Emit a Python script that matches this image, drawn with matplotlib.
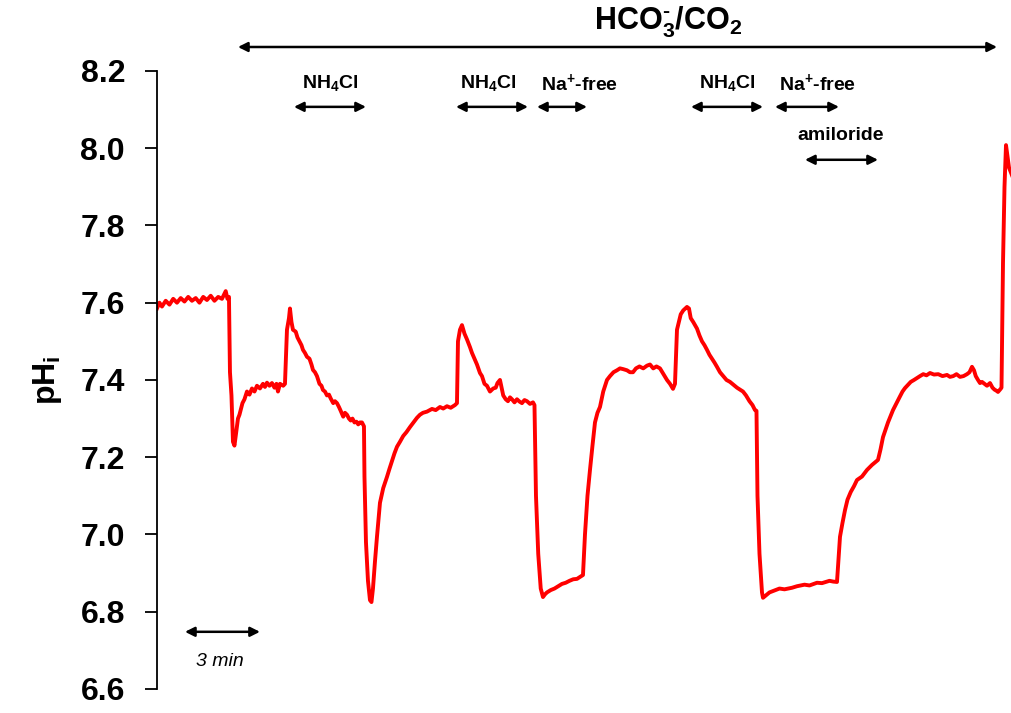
import matplotlib
matplotlib.use("Agg")
import matplotlib.pyplot as plt
import numpy as np

plt.rcParams['font.family'] = ['Liberation Sans', 'DejaVu Sans']
plt.rcParams['mathtext.default'] = 'regular'

# time (min) and intracellular pH
time_min = [0.0, 0.1, 0.2, 0.35, 0.5, 0.65, 0.8, 0.95, 1.1, 1.25, 1.4, 1.55, 1.7, 1.85, 2.0,
            2.15, 2.3, 2.45, 2.6, 2.75, 2.82, 2.88,
            2.92, 2.98, 3.04, 3.1, 3.16, 3.24, 3.3, 3.42, 3.5, 3.6, 3.7, 3.8, 3.9, 4.0, 4.12, 4.24,
            4.32, 4.4, 4.5, 4.6, 4.7, 4.78, 4.84, 4.92, 5.05, 5.12,
            5.2, 5.28, 5.32, 5.38, 5.44, 5.55, 5.62, 5.7, 5.78, 5.84, 5.92, 6.0, 6.1, 6.18, 6.24,
            6.32, 6.4, 6.5, 6.58, 6.64, 6.72, 6.8, 6.88, 6.95, 7.05, 7.12, 7.2, 7.28, 7.35, 7.45,
            7.52, 7.6, 7.68, 7.75, 7.82, 7.9, 7.98, 8.05, 8.12, 8.2, 8.28,
            8.3, 8.36, 8.44, 8.52, 8.58, 8.64, 8.72, 8.8, 8.92, 9.05, 9.2, 9.3, 9.4, 9.5, 9.6,
            9.72, 9.85, 9.98, 10.12, 10.26, 10.4, 10.52, 10.64, 10.8, 11.0, 11.15, 11.32, 11.45,
            11.6, 11.75, 11.92, 12.0,
            12.04, 12.12, 12.2, 12.3, 12.4, 12.52, 12.6, 12.7, 12.8, 12.92, 13.0, 13.1, 13.2,
            13.32, 13.45, 13.55, 13.62, 13.72, 13.8, 13.85, 13.95, 14.04, 14.12, 14.2, 14.3,
            14.4, 14.5, 14.6, 14.7, 14.8, 14.92, 15.04, 15.1,
            15.16, 15.25, 15.35, 15.44, 15.52, 15.6, 15.75, 15.9, 16.05, 16.2, 16.35, 16.5, 16.65,
            16.8, 16.92, 17.04,
            17.12, 17.22, 17.32, 17.42, 17.52, 17.62, 17.72, 17.85, 18.0, 18.12, 18.26, 18.4,
            18.52, 18.65, 18.8, 18.92, 19.04, 19.16, 19.3, 19.45, 19.6, 19.72, 19.85, 19.98,
            20.12, 20.26, 20.4, 20.52, 20.64, 20.72,
            20.8, 20.95, 21.05, 21.2, 21.28, 21.35, 21.45, 21.6, 21.7, 21.8, 21.9, 22.0, 22.1,
            22.2, 22.3, 22.4, 22.52, 22.65, 22.78, 22.92, 23.05, 23.2, 23.32, 23.44, 23.56, 23.7,
            23.82, 23.92, 23.98,
            24.02, 24.1, 24.2, 24.24, 24.35, 24.5, 24.7, 24.9, 25.1, 25.4, 25.6, 25.9, 26.1,
            26.4, 26.6, 26.9, 27.05, 27.2,
            27.32, 27.42, 27.52, 27.62, 27.75, 27.88, 28.0, 28.2, 28.4, 28.6, 28.84, 28.94, 29.04,
            29.24, 29.44, 29.58, 29.7, 29.82, 29.92, 30.05, 30.15, 30.28, 30.4, 30.52, 30.65,
            30.78, 30.92, 31.08, 31.25, 31.42, 31.6, 31.72, 31.85, 31.98, 32.12, 32.26, 32.4,
            32.5, 32.6, 32.68, 32.75, 32.84, 32.92, 33.0, 33.1, 33.2, 33.32, 33.42, 33.5, 33.58,
            33.64, 33.72, 33.78,
            33.84, 33.9, 33.96, 34.02, 34.08, 34.2]
ph_i = [7.585, 7.60, 7.59, 7.605, 7.595, 7.61, 7.60, 7.612, 7.603, 7.615, 7.605, 7.612, 7.60, 7.615, 7.607,
        7.618, 7.605, 7.615, 7.61, 7.63, 7.61, 7.615,
        7.42, 7.36, 7.24, 7.23, 7.26, 7.30, 7.31, 7.34, 7.35, 7.37, 7.362, 7.378, 7.37, 7.385, 7.378, 7.39,
        7.382, 7.393, 7.385, 7.392, 7.38, 7.39, 7.37, 7.39, 7.385, 7.39,
        7.53, 7.56, 7.585, 7.55, 7.53, 7.525, 7.51, 7.50, 7.49, 7.478, 7.47, 7.46, 7.455, 7.44, 7.426,
        7.42, 7.41, 7.39, 7.385, 7.374, 7.37, 7.36, 7.362, 7.352, 7.34, 7.345, 7.34, 7.33, 7.32, 7.305,
        7.315, 7.31, 7.30, 7.295, 7.30, 7.29, 7.292, 7.285, 7.29, 7.29, 7.28,
        7.15, 6.98, 6.88, 6.83, 6.825, 6.86, 6.93, 6.994, 7.082, 7.12, 7.149, 7.17, 7.19, 7.21, 7.227,
        7.24, 7.255, 7.265, 7.278, 7.29, 7.302, 7.31, 7.315, 7.318, 7.325, 7.322, 7.33, 7.326,
        7.332, 7.328, 7.335, 7.34,
        7.50, 7.53, 7.542, 7.52, 7.505, 7.485, 7.47, 7.455, 7.44, 7.418, 7.41, 7.39, 7.385,
        7.37, 7.378, 7.38, 7.392, 7.40, 7.375, 7.36, 7.35, 7.345, 7.355, 7.35, 7.342,
        7.35, 7.344, 7.34, 7.348, 7.345, 7.338, 7.342, 7.335,
        7.1, 6.95, 6.86, 6.838, 6.845, 6.85, 6.856, 6.86, 6.866, 6.872, 6.875, 6.88, 6.884,
        6.885, 6.89, 6.895,
        7.0, 7.1, 7.167, 7.23, 7.29, 7.315, 7.33, 7.37, 7.40, 7.41, 7.42, 7.425, 7.43, 7.428,
        7.425, 7.42, 7.42, 7.43, 7.435, 7.43, 7.437, 7.44, 7.43, 7.435, 7.43, 7.415, 7.40, 7.39,
        7.377, 7.39,
        7.53, 7.57, 7.58, 7.589, 7.585, 7.56, 7.55, 7.533, 7.515, 7.50, 7.49, 7.478, 7.465,
        7.455, 7.445, 7.434, 7.42, 7.41, 7.40, 7.395, 7.388, 7.38, 7.375, 7.37, 7.36, 7.345,
        7.335, 7.322, 7.32,
        7.1, 6.95, 6.85, 6.836, 6.842, 6.85, 6.855, 6.86, 6.858, 6.862, 6.866, 6.87, 6.868,
        6.875, 6.874, 6.88, 6.878, 6.877,
        6.994, 7.03, 7.063, 7.09, 7.11, 7.125, 7.141, 7.15, 7.167, 7.18, 7.193, 7.22, 7.252,
        7.29, 7.322, 7.34, 7.355, 7.37, 7.379, 7.388, 7.395, 7.40, 7.405, 7.41, 7.415,
        7.412, 7.418, 7.414, 7.415, 7.41, 7.413, 7.408, 7.41, 7.415, 7.408, 7.41, 7.415,
        7.42, 7.434, 7.425, 7.41, 7.40, 7.392, 7.395, 7.39, 7.385, 7.392, 7.38, 7.375, 7.372,
        7.369, 7.375, 7.38,
        7.703, 7.90, 8.008, 7.98, 7.95, 7.93]

# solution bars: label, arrow start/end (min), arrow level (pH units), label centre (min)
bar_labels = ['NH$_4$Cl', 'NH$_4$Cl', 'Na$^{+}$-free', 'NH$_4$Cl', 'Na$^{+}$-free', 'amiloride']
bar_start = [5.48, 11.96, 15.2, 21.36, 24.72, 25.92]
bar_end = [8.36, 14.84, 17.2, 24.24, 27.28, 28.84]
bar_level = [8.107, 8.107, 8.107, 8.107, 8.107, 7.970]
label_x = [6.92, 13.24, 16.92, 22.8, 26.44, 27.36]

yticks = [6.6, 6.8, 7.0, 7.2, 7.4, 7.6, 7.8, 8.0, 8.2]

fig = plt.figure(figsize=(10.12, 7.13), dpi=100)
ax = fig.add_axes([0.1551, 0.0337, 0.8449, 0.8668])

ax.plot(time_min, ph_i, color='#ff0000', lw=2.8, solid_joinstyle='round')

ax.set_xlim(0, 34.2)
ax.set_ylim(6.6, 8.2)
ax.set_yticks(yticks)
ax.set_yticklabels(['%.1f' % v for v in yticks], fontsize=23, fontweight='bold')
ax.set_xticks([])
for s in ['top', 'right', 'bottom']:
    ax.spines[s].set_visible(False)
ax.spines['left'].set_linewidth(1.3)
ax.tick_params(axis='y', direction='out', length=9, width=1.3, pad=14)
ax.set_ylabel('pH$_i$', fontsize=23, fontweight='bold', labelpad=12)

arrow = dict(arrowstyle='<|-|>', color='black', lw=1.8, mutation_scale=14, shrinkA=0, shrinkB=0)

# HCO3-/CO2 over the whole record
ax.annotate('', xy=(3.24, 8.262), xytext=(33.6, 8.262), arrowprops=arrow, annotation_clip=False)
ax.text(20.44, 8.327, 'HCO$_3^{\u2010}$/CO$_2$', fontsize=22, fontweight='bold', ha='center',
        va='center', clip_on=False)

for lab, a, b, lev, tx in zip(bar_labels, bar_start, bar_end, bar_level, label_x):
    ax.annotate('', xy=(a, lev), xytext=(b, lev), arrowprops=arrow, annotation_clip=False)
    ax.text(tx, lev + 0.062, lab, fontsize=14, fontweight='bold', ha='center', va='center')

# time scale bar
ax.annotate('', xy=(1.12, 6.748), xytext=(4.12, 6.748), arrowprops=arrow)
ax.text(2.5, 6.67, '3 min', fontsize=14, style='italic', ha='center', va='center')

fig.savefig('out.png', dpi=100)
